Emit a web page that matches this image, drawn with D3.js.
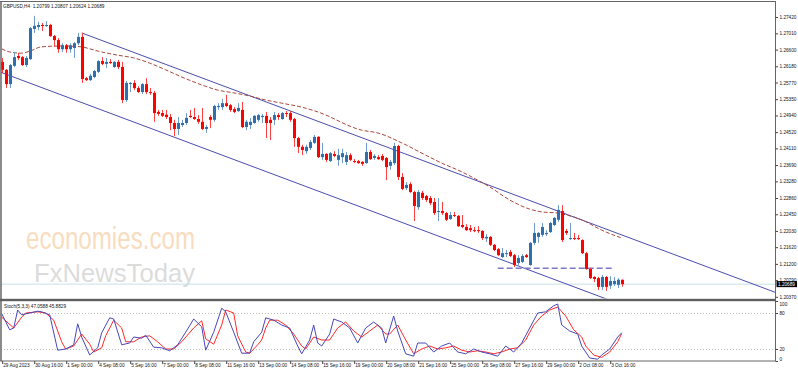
<!DOCTYPE html>
<html><head><meta charset="utf-8">
<script src="https://cdn.jsdelivr.net/npm/d3@7"></script>
<style>
body{margin:0;background:#fff;}
svg{display:block;}
text{font-family:"Liberation Sans",Arial,sans-serif;}
</style></head>
<body><svg id="c" width="798" height="372"></svg>
<script>
// ---------------- DATA ----------------
const symbolTitle = "GBPUSD,H4  1.20799 1.20807 1.20624 1.20689";
const stochTitle = "Stoch(5,3,3) 47.0588 45.8829";
const timeLabels = ["29 Aug 2023","30 Aug 16:00","1 Sep 00:00","4 Sep 08:00","5 Sep 16:00","7 Sep 00:00","8 Sep 08:00","11 Sep 16:00","13 Sep 00:00","14 Sep 08:00","15 Sep 16:00","19 Sep 00:00","20 Sep 08:00","21 Sep 16:00","25 Sep 00:00","26 Sep 08:00","27 Sep 16:00","29 Sep 00:00","2 Oct 08:00","3 Oct 16:00"];
const labelBars = [0,8,16,24,32,40,48,56,64,72,80,88,96,104,112,120,128,136,144,152];
const priceTicks = [1.27420,1.27010,1.26600,1.26180,1.25770,1.25350,1.24940,1.24520,1.24110,1.23690,1.23280,1.22860,1.22450,1.22030,1.21620,1.21200,1.20790,1.20370];
const stochTicks = [100,80,20,0];
const lastPrice = 1.20689;

const opens = [1.2629,1.2609,1.2573,1.2619,1.2644,1.2641,1.2621,1.2636,1.2712,1.2717,1.2722,1.2720,1.2722,1.2694,1.2684,1.2661,1.2671,1.2661,1.2664,1.2676,
1.2692,1.2588,1.2583,1.2591,1.2604,1.2631,1.2624,1.2629,1.2616,1.2629,1.2616,1.2533,1.2573,1.2576,1.2563,1.2553,1.2573,1.2553,1.2551,1.2503,
1.2500,1.2496,1.2490,1.2475,1.2460,1.2470,1.2475,1.2493,1.2490,1.2485,1.2478,1.2460,1.2490,1.2483,1.2515,1.2515,1.2525,1.2520,1.2510,1.2505,
1.2508,1.2465,1.2470,1.2475,1.2483,1.2490,1.2493,1.2483,1.2483,1.2495,1.2485,1.2500,1.2500,1.2485,1.2437,1.2415,1.2404,1.2412,1.2425,1.2440,
1.2389,1.2397,1.2379,1.2397,1.2382,1.2389,1.2377,1.2394,1.2379,1.2379,1.2377,1.2374,1.2402,1.2387,1.2389,1.2392,1.2387,1.2367,1.2374,1.2417,
1.2339,1.2311,1.2321,1.2301,1.2263,1.2299,1.2291,1.2286,1.2276,1.2251,1.2253,1.2248,1.2233,1.2243,1.2241,1.2218,1.2213,1.2210,1.2205,1.2205,
1.2203,1.2184,1.2188,1.2168,1.2157,1.2137,1.2145,1.2150,1.2142,1.2122,1.2125,1.2142,1.2117,1.2173,1.2188,1.2193,1.2195,1.2200,1.2218,1.2231,
1.2253,1.2203,1.2183,1.2185,1.2185,1.2180,1.2147,1.2107,1.2087,1.2084,1.2062,1.2087,1.2065,1.2069,1.2067,1.20799];
const highs = [1.2639,1.2611,1.2624,1.2654,1.2652,1.2644,1.2644,1.2717,1.2745,1.2730,1.2727,1.2732,1.2725,1.2697,1.2689,1.2676,1.2674,1.2676,1.2679,1.2702,
1.2702,1.2591,1.2599,1.2609,1.2634,1.2641,1.2639,1.2636,1.2631,1.2634,1.2629,1.2581,1.2578,1.2583,1.2568,1.2576,1.2588,1.2563,1.2556,1.2508,
1.2508,1.2508,1.2498,1.2483,1.2490,1.2483,1.2500,1.2508,1.2513,1.2495,1.2513,1.2470,1.2495,1.2521,1.2525,1.2536,1.2546,1.2523,1.2515,1.2525,
1.2528,1.2483,1.2488,1.2495,1.2498,1.2498,1.2503,1.2490,1.2503,1.2500,1.2503,1.2505,1.2505,1.2488,1.2440,1.2420,1.2420,1.2432,1.2445,1.2442,
1.2425,1.2399,1.2402,1.2404,1.2410,1.2410,1.2402,1.2399,1.2384,1.2382,1.2379,1.2425,1.2407,1.2397,1.2394,1.2397,1.2389,1.2382,1.2425,1.2420,
1.2349,1.2326,1.2326,1.2304,1.2306,1.2304,1.2294,1.2291,1.2286,1.2286,1.2276,1.2251,1.2251,1.2251,1.2243,1.2243,1.2220,1.2218,1.2213,1.2215,
1.2205,1.2195,1.2190,1.2170,1.2160,1.2160,1.2155,1.2155,1.2145,1.2142,1.2145,1.2145,1.2175,1.2223,1.2200,1.2223,1.2205,1.2226,1.2238,1.2268,
1.2268,1.2208,1.2223,1.2198,1.2193,1.2182,1.2150,1.2110,1.2089,1.2087,1.2092,1.2089,1.2089,1.2087,1.2084,1.20807];
const lows = [1.2601,1.2563,1.2563,1.2616,1.2634,1.2619,1.2616,1.2634,1.2702,1.2709,1.2707,1.2717,1.2692,1.2667,1.2652,1.2654,1.2652,1.2652,1.2639,1.2671,
1.2576,1.2581,1.2581,1.2588,1.2601,1.2621,1.2614,1.2624,1.2614,1.2611,1.2525,1.2528,1.2553,1.2558,1.2551,1.2548,1.2548,1.2546,1.2478,1.2493,
1.2490,1.2485,1.2457,1.2442,1.2445,1.2465,1.2470,1.2488,1.2483,1.2473,1.2457,1.2450,1.2462,1.2478,1.2508,1.2508,1.2515,1.2503,1.2500,1.2503,
1.2462,1.2457,1.2460,1.2473,1.2478,1.2475,1.2437,1.2432,1.2470,1.2483,1.2483,1.2490,1.2478,1.2415,1.2399,1.2394,1.2397,1.2407,1.2422,1.2387,
1.2382,1.2377,1.2377,1.2389,1.2367,1.2374,1.2369,1.2379,1.2374,1.2372,1.2367,1.2372,1.2382,1.2382,1.2382,1.2379,1.2331,1.2357,1.2369,1.2331,
1.2306,1.2306,1.2299,1.2228,1.2256,1.2281,1.2276,1.2268,1.2243,1.2228,1.2243,1.2228,1.2231,1.2238,1.2213,1.2210,1.2203,1.2200,1.2200,1.2198,
1.2180,1.2175,1.2165,1.2152,1.2140,1.2135,1.2137,1.2137,1.2112,1.2117,1.2122,1.2135,1.2115,1.2168,1.2173,1.2188,1.2190,1.2198,1.2215,1.2226,
1.2175,1.2193,1.2180,1.2180,1.2180,1.2145,1.2105,1.2082,1.2074,1.2054,1.2054,1.2052,1.2057,1.2064,1.2059,1.20624];
const closes = [1.2609,1.2573,1.2621,1.2641,1.2639,1.2621,1.2639,1.2714,1.2720,1.2722,1.2720,1.2722,1.2694,1.2684,1.2661,1.2671,1.2661,1.2671,1.2676,1.2692,
1.2586,1.2583,1.2594,1.2606,1.2631,1.2624,1.2629,1.2626,1.2629,1.2616,1.2533,1.2576,1.2576,1.2563,1.2553,1.2573,1.2553,1.2551,1.2500,1.2498,
1.2493,1.2490,1.2475,1.2460,1.2475,1.2475,1.2488,1.2490,1.2485,1.2478,1.2460,1.2465,1.2483,1.2518,1.2518,1.2525,1.2518,1.2508,1.2503,1.2513,
1.2465,1.2478,1.2478,1.2493,1.2495,1.2493,1.2475,1.2475,1.2495,1.2490,1.2500,1.2498,1.2483,1.2437,1.2415,1.2407,1.2415,1.2427,1.2440,1.2389,
1.2397,1.2382,1.2399,1.2392,1.2394,1.2399,1.2394,1.2382,1.2377,1.2374,1.2372,1.2402,1.2384,1.2392,1.2384,1.2382,1.2364,1.2377,1.2417,1.2339,
1.2309,1.2319,1.2301,1.2266,1.2301,1.2286,1.2281,1.2273,1.2248,1.2253,1.2248,1.2231,1.2243,1.2241,1.2215,1.2213,1.2205,1.2205,1.2203,1.2203,
1.2185,1.2188,1.2168,1.2155,1.2142,1.2147,1.2147,1.2140,1.2117,1.2135,1.2140,1.2137,1.2173,1.2198,1.2198,1.2213,1.2198,1.2223,1.2236,1.2256,
1.2180,1.2198,1.2185,1.2183,1.2183,1.2147,1.2107,1.2084,1.2082,1.2062,1.2087,1.2062,1.2077,1.2077,1.2080,1.20689];

// moving average (dashed) read at bar positions
const maBars = [0,2,5,7,10,15,20,22,25,29,33,37,41,45,50,54,58,62,66,70,75,79,90,94,100,106,110,115,119,122,127,132,135,139,142,145,150,155];
const maValues = [1.2662,1.2654,1.2651,1.2656,1.2667,1.2669,1.2667,1.2662,1.2654,1.2646,1.2639,1.2626,1.2609,1.2591,1.2571,1.2558,1.2551,1.2543,1.2533,1.2525,1.2515,1.2503,1.2457,1.2450,1.2425,1.2394,1.2374,1.2352,1.2331,1.2314,1.2281,1.2258,1.2251,1.2248,1.2241,1.2231,1.2205,1.2185];

// channel (two parallel trend lines) and horizontal dashed level
const upperLine = [[20,1.2702],[155,1.2193]];
const lowerLine = [[0,1.2602],[150,1.2036]];
const levelLine = {from:124, to:153, price:1.2109};

// stochastic %K (blue) and %D (red)
const kBars = [0,2,3,4,5,7,9,10,12,14,16,18,19,20,22,24,25,27,28,30,32,33,35,36,38,40,42,44,46,48,50,51,53,55,56,58,60,62,63,65,
66,68,70,72,74,75,77,78,79,80,82,83,85,87,89,91,93,95,96,98,99,101,103,104,106,108,110,112,114,116,118,120,122,124,126,128,130,132,134,136,138,139,140,142,144,145,147,149,150,152,154,155];
const kValues = [79,52,55,85,77,80,83,82,77,18,20,27,62,40,10,22,47,72,70,27,30,40,38,43,23,22,17,27,48,70,57,18,48,88,82,48,13,13,32,48,
72,68,60,55,25,12,35,60,30,25,45,70,65,55,30,55,65,55,30,75,50,12,8,30,30,15,25,30,15,12,20,15,12,8,25,15,30,55,80,82,92,95,60,50,45,25,5,3,10,20,40,47.06];
const dBars = [0,3,5,6,9,11,13,15,16,18,20,22,23,25,26,28,30,31,33,35,37,39,41,43,45,48,50,51,53,55,56,58,59,61,62,64,65,
66,67,69,71,73,75,76,78,80,82,84,86,88,90,92,94,96,97,99,101,103,105,107,109,111,113,115,117,119,121,123,125,127,129,131,133,135,137,139,141,143,145,146,148,150,152,154,155];
const dValues = [73,55,73,80,82,80,68,32,20,25,45,28,15,22,42,68,55,32,32,40,42,32,20,20,32,55,67,37,28,60,85,80,42,15,13,27,35,
55,68,68,60,45,25,20,40,35,35,55,65,50,40,50,60,45,45,60,35,12,20,25,20,22,25,18,15,17,15,12,15,20,22,35,60,75,85,90,75,52,40,25,10,6,15,32,45.88];

// ---------------- CHART ----------------
const svg = d3.select("#c");
const AXX = 775.5;          // right price-axis line
const FS = 4.7;             // small platform font
const x = d3.scaleLinear().domain([0,155]).range([1.7,621.7]);
const y = d3.scaleLinear().domain([1.2037,1.2742]).range([296.8,17.06]);
const ys = d3.scaleLinear().domain([0,100]).range([361,301]);

svg.append("rect").attr("width",798).attr("height",372).attr("fill","#fff");

const defs = svg.append("defs");
defs.append("clipPath").attr("id","mainClip").append("rect").attr("x",1).attr("y",2).attr("width",AXX-1).attr("height",296.5);
defs.append("clipPath").attr("id","stClip").append("rect").attr("x",1).attr("y",301.5).attr("width",AXX-1).attr("height",59.5);

const main = svg.append("g").attr("clip-path","url(#mainClip)");

// watermark
main.append("text").attr("x",26).attr("y",249).attr("font-family","'Open Sans',sans-serif")
  .attr("font-size",32).attr("textLength",169).attr("lengthAdjust","spacingAndGlyphs")
  .attr("fill","#f5c391").attr("fill-opacity",0.6).text("economies.com");
main.append("text").attr("x",34).attr("y",282).attr("font-family","'Open Sans',sans-serif")
  .attr("font-size",26).attr("textLength",161).attr("lengthAdjust","spacingAndGlyphs")
  .attr("fill","#c4c4c4").attr("fill-opacity",0.6).text("FxNewsToday");

// current price line
main.append("line").attr("x1",1).attr("x2",AXX).attr("y1",y(lastPrice)).attr("y2",y(lastPrice))
  .attr("stroke","#c6e2ea").attr("stroke-width",1);

// channel lines (rays to the right)
function ray(pts, fromBar){
  const [a,b] = pts;
  const slope = (b[1]-a[1])/(b[0]-a[0]);
  const endBar = x.invert(AXX);
  return [[x(fromBar), y(a[1] + slope*(fromBar-a[0]))],[AXX, y(a[1] + slope*(endBar-a[0]))]];
}
const lineGen = d3.line();
main.append("path").attr("d",lineGen(ray(upperLine,upperLine[0][0]))).attr("fill","none")
  .attr("stroke","#4c4cae").attr("stroke-width",1);
main.append("path").attr("d",lineGen(ray(lowerLine,x.invert(0)))).attr("fill","none")
  .attr("stroke","#4c4cae").attr("stroke-width",1);

// MA dashed
main.append("path").datum(maBars.map((b,i)=>[b,maValues[i]]))
  .attr("d",d3.line().x(d=>x(d[0])).y(d=>y(d[1])).curve(d3.curveMonotoneX))
  .attr("fill","none").attr("stroke","#a9483c").attr("stroke-width",1).attr("stroke-dasharray","4,2");

// horizontal dashed level
main.append("line").attr("x1",x(levelLine.from)).attr("x2",x(levelLine.to))
  .attr("y1",y(levelLine.price)).attr("y2",y(levelLine.price))
  .attr("stroke","#7a7ac4").attr("stroke-width",1.5).attr("stroke-dasharray","6,3");

// candles
const idx = d3.range(opens.length);
const cg = main.append("g");
cg.selectAll("line.w").data(idx).join("line").attr("class","w")
  .attr("x1",i=>Math.round(x(i))+0.5).attr("x2",i=>Math.round(x(i))+0.5)
  .attr("y1",i=>y(highs[i])).attr("y2",i=>y(lows[i]))
  .attr("stroke",i=>closes[i]>=opens[i]?"#6f9cc8":"#ff4040").attr("stroke-width",1);
cg.selectAll("rect.b").data(idx).join("rect").attr("class","b")
  .attr("x",i=>Math.round(x(i))-1).attr("width",3)
  .attr("y",i=>y(Math.max(opens[i],closes[i])))
  .attr("height",i=>Math.max(1,Math.abs(y(opens[i])-y(closes[i]))))
  .attr("fill",i=>closes[i]>=opens[i]?"#2f6fae":"#ff0000");

// ---- stochastic panel ----
const st = svg.append("g").attr("clip-path","url(#stClip)");
[80,20].forEach(v=>{
  st.append("line").attr("x1",1).attr("x2",AXX).attr("y1",ys(v)+0.5).attr("y2",ys(v)+0.5)
    .attr("stroke","#bdbdbd").attr("stroke-width",1).attr("stroke-dasharray","1,2");
});
st.append("path").datum(dBars.map((b,i)=>[b,dValues[i]]))
  .attr("d",d3.line().x(d=>x(d[0])).y(d=>ys(d[1])))
  .attr("fill","none").attr("stroke","#ff2a2a").attr("stroke-width",1);
st.append("path").datum(kBars.map((b,i)=>[b,kValues[i]]))
  .attr("d",d3.line().x(d=>x(d[0])).y(d=>ys(d[1])))
  .attr("fill","none").attr("stroke","#4848bb").attr("stroke-width",1);

// ---- frames ----
const frame = "#666";
svg.append("line").attr("x1",0).attr("x2",AXX).attr("y1",1.5).attr("y2",1.5).attr("stroke",frame);
svg.append("line").attr("x1",1).attr("x2",1).attr("y1",1).attr("y2",361).attr("stroke",frame).attr("stroke-width",1.5);
svg.append("line").attr("x1",AXX).attr("x2",AXX).attr("y1",1).attr("y2",361).attr("stroke",frame);
svg.append("rect").attr("x",0).attr("y",298.8).attr("width",AXX).attr("height",2.4).attr("fill","#5e5e5e");
svg.append("line").attr("x1",0).attr("x2",AXX).attr("y1",361).attr("y2",361).attr("stroke",frame);

// ---- price axis ----
const pax = svg.append("g").attr("transform",`translate(${AXX},0)`)
  .call(d3.axisRight(y).tickValues(priceTicks).tickSize(2.5).tickPadding(1.5).tickFormat(d=>d.toFixed(5)));
pax.select(".domain").remove();
pax.selectAll("line").attr("stroke","#444");
pax.selectAll("text").attr("font-size",FS).attr("font-family","'Liberation Sans',Arial,sans-serif").attr("fill","#111");

// last price box
svg.append("rect").attr("x",776.5).attr("y",y(lastPrice)-3).attr("width",20.5).attr("height",6).attr("fill","#000");
svg.append("text").attr("x",778).attr("y",y(lastPrice)).attr("dy","0.34em").attr("font-size",FS)
  .attr("fill","#fff").text(lastPrice.toFixed(5));

// stochastic axis
const sax = svg.append("g").attr("transform",`translate(${AXX},0)`)
  .call(d3.axisRight(ys).tickValues(stochTicks).tickSize(2.5).tickPadding(1.5).tickFormat(d3.format("d")));
sax.select(".domain").remove();
sax.selectAll("line").attr("stroke","#444");
sax.selectAll("text").attr("font-size",FS).attr("font-family","'Liberation Sans',Arial,sans-serif").attr("fill","#111")
  .attr("dy",d=>d===100?"0.9em":(d===0?"-0.2em":"0.34em"));

// time axis
const tax = svg.append("g").attr("transform","translate(0,361)")
  .call(d3.axisBottom(x).tickValues(labelBars).tickSize(3).tickPadding(1).tickFormat((d,i)=>timeLabels[i]));
tax.select(".domain").remove();
tax.selectAll("line").attr("stroke","#444").attr("transform","translate(0.5,0)");
tax.selectAll("text").attr("font-size",FS).attr("font-family","'Liberation Sans',Arial,sans-serif").attr("fill","#111")
  .attr("text-anchor","start").attr("dx",1).attr("y",2.2).attr("dy","0.71em");

// titles
svg.append("text").attr("x",3).attr("y",7.6).attr("font-size",FS).attr("fill","#111").attr("xml:space","preserve").text(symbolTitle);
svg.append("text").attr("x",4).attr("y",307.5).attr("font-size",FS).attr("fill","#111").text(stochTitle);
</script></body></html>
